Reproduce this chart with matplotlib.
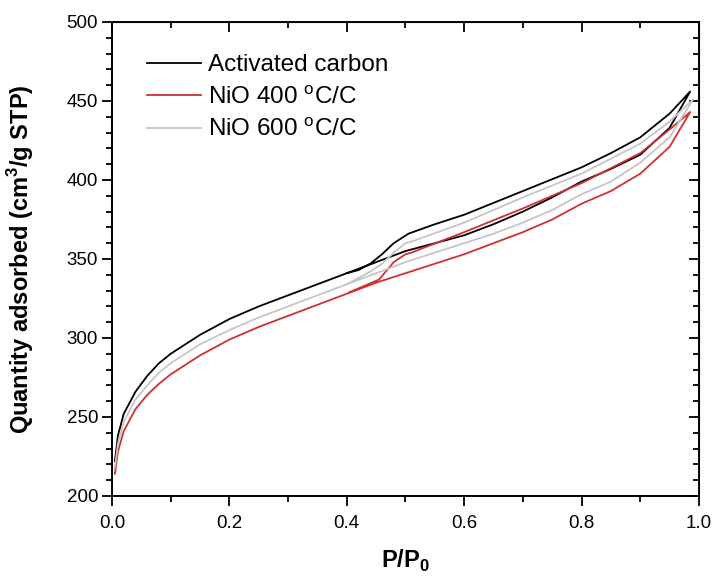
import matplotlib
matplotlib.use("Agg")
import matplotlib.pyplot as plt
from matplotlib.ticker import MultipleLocator, FormatStrFormatter

plt.rcParams['font.family'] = ['Liberation Sans', 'DejaVu Sans']

# Activated carbon: adsorption then desorption
ac_x = [0.005, 0.01, 0.02, 0.04, 0.06, 0.08, 0.1, 0.15, 0.2, 0.25, 0.3, 0.35, 0.4, 0.45,
        0.5, 0.55, 0.6, 0.65, 0.7, 0.75, 0.8, 0.85, 0.9, 0.95, 0.985,
        0.95, 0.9, 0.85, 0.8, 0.7, 0.6, 0.55, 0.505, 0.48, 0.46, 0.44, 0.42, 0.40]
ac_y = [222, 238, 252, 266, 276, 284, 290, 302, 312, 320, 327, 334, 341, 348,
        355, 360, 365, 372, 380, 389, 399, 407, 416, 433, 456,
        442, 427, 417, 408, 393, 378, 372, 366, 360, 353, 347, 343, 341]

# NiO 400 C/C
n4_x = [0.005, 0.01, 0.02, 0.04, 0.06, 0.08, 0.1, 0.15, 0.2, 0.25, 0.3, 0.35, 0.4, 0.45,
        0.5, 0.55, 0.6, 0.65, 0.7, 0.75, 0.8, 0.85, 0.9, 0.95, 0.985,
        0.95, 0.9, 0.8, 0.7, 0.6, 0.51, 0.5, 0.48, 0.455, 0.43, 0.405]
n4_y = [214, 228, 241, 255, 264, 271, 277, 289, 299, 307, 314, 321, 328, 335,
        341, 347, 353, 360, 367, 375, 385, 393, 404, 421, 443,
        432, 417, 398, 382, 367, 354, 353, 348, 337, 333, 329]

# NiO 600 C/C
n6_x = [0.005, 0.01, 0.02, 0.04, 0.06, 0.08, 0.1, 0.15, 0.2, 0.25, 0.3, 0.35, 0.4, 0.45,
        0.5, 0.55, 0.6, 0.65, 0.7, 0.75, 0.8, 0.85, 0.9, 0.95, 0.99,
        0.95, 0.9, 0.8, 0.7, 0.6, 0.51, 0.5, 0.48, 0.46, 0.44, 0.42, 0.40]
n6_y = [218, 233, 247, 261, 270, 278, 284, 296, 305, 313, 320, 327, 334, 341,
        348, 354, 360, 366, 373, 381, 391, 399, 411, 427, 451,
        437, 423, 404, 389, 373, 361, 360, 354, 347, 342, 338, 334]

fig = plt.figure(figsize=(7.16, 5.77), dpi=100)
ax = fig.add_axes([0.1564, 0.1404, 0.8198, 0.8215])

ax.plot(ac_x, ac_y, color='black', lw=1.3, label='Activated carbon')
ax.plot(n4_x, n4_y, color='#d03030', lw=1.3, label='NiO 400 $^\\mathregular{o}$C/C')
ax.plot(n6_x, n6_y, color='#c6c6c6', lw=1.3, label='NiO 600 $^\\mathregular{o}$C/C')

ax.set_xlim(0, 1.0)
ax.set_ylim(200, 500)
ax.xaxis.set_major_locator(MultipleLocator(0.2))
ax.xaxis.set_minor_locator(MultipleLocator(0.1))
ax.yaxis.set_major_locator(MultipleLocator(50))
ax.yaxis.set_minor_locator(MultipleLocator(10))
ax.xaxis.set_major_formatter(FormatStrFormatter('%.1f'))
ax.tick_params(which='both', direction='out', labelsize=13.5, width=1.3)
ax.tick_params(which='major', length=7)
ax.tick_params(which='minor', length=4.5)
ax.tick_params(axis='x', pad=7)
ax.tick_params(axis='y', pad=3)
for s in ax.spines.values():
    s.set_linewidth(1.4)

# inward ticks on the top and right sides
top = ax.secondary_xaxis('top')
top.xaxis.set_major_locator(MultipleLocator(0.2))
top.xaxis.set_minor_locator(MultipleLocator(0.1))
top.tick_params(which='both', direction='in', labeltop=False, width=1.3)
top.tick_params(which='major', length=7)
top.tick_params(which='minor', length=4.5)
right = ax.secondary_yaxis('right')
right.yaxis.set_major_locator(MultipleLocator(50))
right.yaxis.set_minor_locator(MultipleLocator(10))
right.tick_params(which='both', direction='in', labelright=False, width=1.3)
right.tick_params(which='major', length=7)
right.tick_params(which='minor', length=4.5)

ax.set_xlabel('P/P$_\\mathregular{0}$', fontsize=17, fontweight='bold')
ax.set_ylabel('Quantity adsorbed (cm$^\\mathregular{3}$/g STP)', fontsize=17, fontweight='bold')
ax.xaxis.set_label_coords(0.5, -0.11)
ax.yaxis.set_label_coords(-0.13, 0.5)

ax.legend(loc='upper left', frameon=False, fontsize=17.5, handlelength=2.2,
          bbox_to_anchor=(0.06, 0.932), borderaxespad=0, borderpad=0,
          labelspacing=0.4, handletextpad=0.3)

fig.savefig('out.png', dpi=100)
